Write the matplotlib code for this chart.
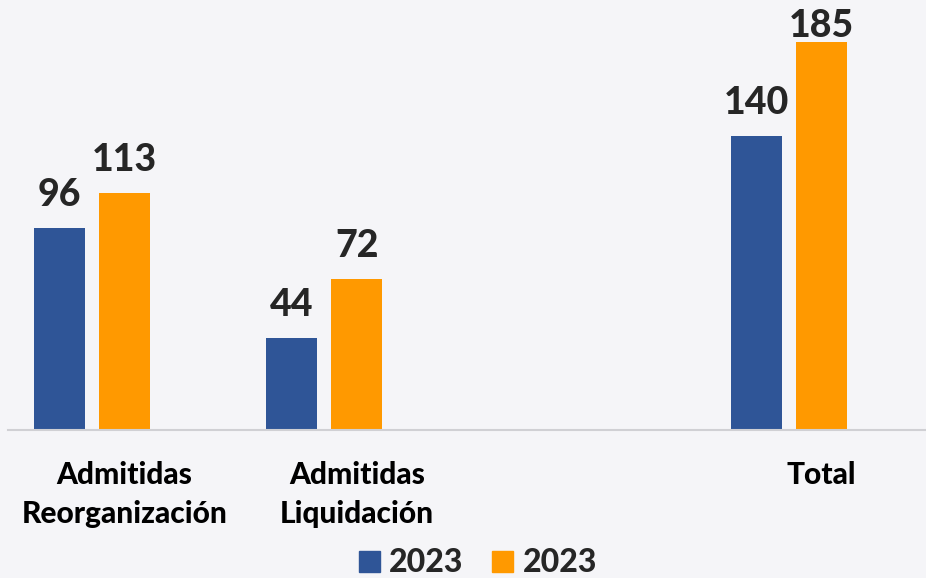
import matplotlib
matplotlib.use('Agg')
import matplotlib.pyplot as plt
from matplotlib.patches import Patch

# data
categories = ['Admitidas\nReorganización', 'Admitidas\nLiquidación', '', 'Total']
series_a = [96, 44, None, 140]
series_b = [113, 72, None, 185]
legend_labels = ['2023', '2023']

blue = '#2F5597'
orange = '#FF9900'
bg = '#F5F5F8'

plt.rcParams['font.family'] = ['Lato', 'DejaVu Sans']

fig = plt.figure(figsize=(9.26, 5.78), dpi=100, facecolor=bg)
ax = fig.add_axes([8 / 926, 148 / 578, 918 / 926, 430 / 578])
ax.set_facecolor(bg)

ymax = 204.8
width = 0.22
offset = 0.14
for i, (a, b) in enumerate(zip(series_a, series_b)):
    if a is None:
        continue
    for val, dx, col in ((a, -offset, blue), (b, offset, orange)):
        ax.bar(i + dx, val, width=width, color=col)
        # label baseline a bit above the bar, kept inside the figure
        ax.text(i + dx, min(val + 10.5, ymax - 17.5), str(val), ha='center', va='baseline',
                fontsize=27, fontweight='black', color='#262626')

ax.set_xlim(-0.362, 3.59)
ax.set_ylim(0, ymax)
# in the source the category labels sit under the second bar of each group
ax.set_xticks([i + offset for i in range(len(categories))])
ax.set_xticklabels(categories, fontsize=21.5, fontweight='black', color='black', linespacing=1.5)
ax.tick_params(axis='x', length=0, pad=22)
ax.set_yticks([])
for s in ('top', 'right', 'left'):
    ax.spines[s].set_visible(False)
ax.spines['bottom'].set_color('#D0D0D4')
ax.spines['bottom'].set_linewidth(1.5)

handles = [Patch(color=blue), Patch(color=orange)]
fig.legend(handles, legend_labels, loc='center', bbox_to_anchor=(478 / 926, 1 - 563 / 578),
           ncol=2, frameon=False, prop={'size': 23, 'weight': 'black'},
           handlelength=0.65, handleheight=0.65, handletextpad=0.3, columnspacing=0.9,
           labelcolor='#262626')

fig.savefig('out.png', dpi=100, facecolor=bg)
